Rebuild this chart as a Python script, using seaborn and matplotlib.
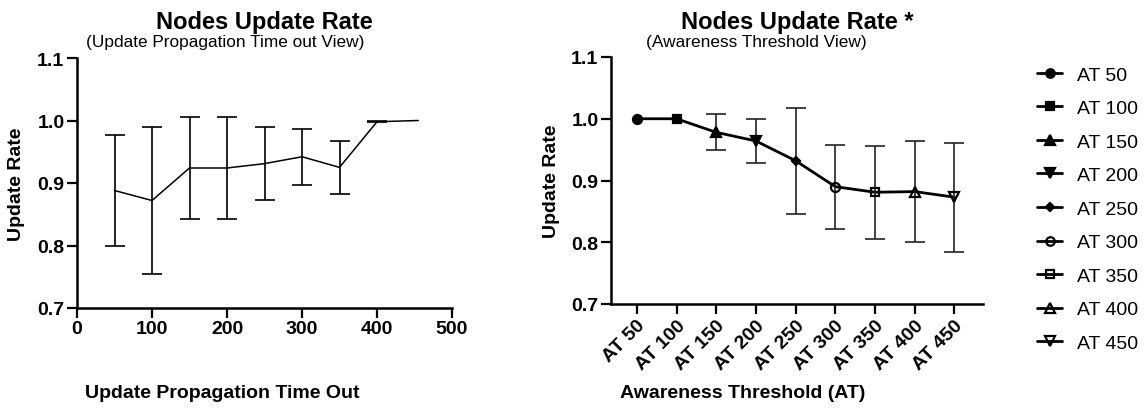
import numpy as np
import pandas as pd
import matplotlib
matplotlib.use("Agg")
import matplotlib.pyplot as plt
from matplotlib.lines import Line2D
import seaborn as sns

# ---------------- data ----------------
timeout_x = [50, 100, 150, 200, 250, 300, 350, 400, 455]
timeout_mean = [0.888, 0.872, 0.924, 0.924, 0.931, 0.942, 0.925, 0.998, 1.000]
timeout_sd = [0.089, 0.117, 0.082, 0.082, 0.058, 0.045, 0.043, 0.001, 0.0]

at_labels = ["AT 50", "AT 100", "AT 150", "AT 200", "AT 250",
             "AT 300", "AT 350", "AT 400", "AT 450"]
at_mean = [1.000, 1.000, 0.978, 0.964, 0.932, 0.890, 0.881, 0.882, 0.873]
at_sd = [0.0, 0.0, 0.029, 0.035, 0.086, 0.068, 0.075, 0.082, 0.088]

yticks = [0.7, 0.8, 0.9, 1.0, 1.1]
xticks_left = [0, 100, 200, 300, 400, 500]

markers = ["o", "s", "^", "v", "D", "o", "s", "^", "v"]
filled = [True, True, True, True, True, False, False, False, False]
msizes = [6.5, 6.3, 7, 7, 4.5, 6.5, 6.3, 7, 7]

# ---------------- style ----------------
sns.set_style("ticks")
plt.rcParams["font.family"] = ["Liberation Sans", "DejaVu Sans"]
plt.rcParams["text.color"] = "black"
plt.rcParams["axes.labelcolor"] = "black"
plt.rcParams["xtick.color"] = "black"
plt.rcParams["ytick.color"] = "black"
plt.rcParams["axes.edgecolor"] = "black"

W, H = 1148, 410
fig = plt.figure(figsize=(W / 100, H / 100), dpi=100)

def px_rect(l, r, t, b):
    return [l / W, 1 - b / H, (r - l) / W, (b - t) / H]

ax1 = fig.add_axes(px_rect(77, 452, 59, 309))
ax2 = fig.add_axes(px_rect(611, 983, 58, 305))

TICK_FS = 14
LAB_FS = 14

for ax in (ax1, ax2):
    sns.despine(ax=ax)
    ax.spines["left"].set_linewidth(1.8)
    ax.spines["bottom"].set_linewidth(1.8)
    ax.tick_params(axis="both", direction="out", length=7, width=1.6,
                   labelsize=TICK_FS, pad=2, colors="black")
    ax.set_ylim(0.7, 1.1)
    ax.set_yticks(yticks)
    ax.set_yticklabels([f"{v:.1f}" for v in yticks], fontweight="bold", fontsize=TICK_FS)
    ax.set_ylabel("Update Rate", fontsize=LAB_FS, fontweight="bold")

# ---------------- left panel ----------------
df1 = pd.DataFrame({"timeout": timeout_x, "rate": timeout_mean, "sd": timeout_sd})
sns.lineplot(data=df1, x="timeout", y="rate", ax=ax1, color="black",
             linewidth=1.1, errorbar=None)
e1 = df1[df1["sd"] > 0]
ax1.errorbar(e1["timeout"], e1["rate"], yerr=e1["sd"], fmt="none",
             ecolor="black", elinewidth=1.2, capsize=7, capthick=1.2)
ax1.set_xlim(0, 500)
ax1.set_xticks(xticks_left)
ax1.set_xticklabels([str(v) for v in xticks_left], fontweight="bold", fontsize=TICK_FS)
ax1.set_xlabel("Update Propagation Time Out", fontsize=LAB_FS, fontweight="bold")
ax1.xaxis.set_label_coords(0.387, -0.305)
ax1.yaxis.set_label_coords(-0.139, 0.5)

# ---------------- right panel ----------------
df2 = pd.DataFrame({"pos": np.arange(len(at_labels)), "label": at_labels,
                    "rate": at_mean, "sd": at_sd})
sns.lineplot(data=df2, x="pos", y="rate", ax=ax2, color="black",
             linewidth=2.0, errorbar=None)
e2 = df2[df2["sd"] > 0]
ax2.errorbar(e2["pos"], e2["rate"], yerr=e2["sd"], fmt="none",
             ecolor="#222222", elinewidth=1.2, capsize=7, capthick=1.2)
for i in range(len(at_labels)):
    ax2.plot(df2["pos"][i], at_mean[i], marker=markers[i], ms=msizes[i],
             mfc="black" if filled[i] else "none", mec="black", mew=1.6,
             linestyle="none", zorder=5)
ax2.set_xlim(-0.65, 8.72)
ax2.set_xticks(df2["pos"])
ax2.set_xticklabels(at_labels, rotation=45, ha="right", rotation_mode="anchor",
                    fontweight="bold", fontsize=TICK_FS)
ax2.set_xlabel("Awareness Threshold (AT)", fontsize=LAB_FS, fontweight="bold")
ax2.xaxis.set_label_coords(0.353, -0.325)
ax2.yaxis.set_label_coords(-0.137, 0.5)

# ---------------- titles ----------------
def fx(px):
    return px / W

def fy(py):
    return 1 - py / H

fig.text(fx(264.5), fy(22), "Nodes Update Rate", ha="center", va="center",
         fontsize=17, fontweight="bold")
fig.text(fx(225), fy(42), "(Update Propagation Time out View)", ha="center",
         va="center", fontsize=12.4)
fig.text(fx(797), fy(22), "Nodes Update Rate *", ha="center", va="center",
         fontsize=17, fontweight="bold")
fig.text(fx(756), fy(42), "(Awareness Threshold View)", ha="center",
         va="center", fontsize=12.4)

# ---------------- legend ----------------
handles = [Line2D([0], [0], color="black", linewidth=2.0, marker=markers[i],
                  ms=msizes[i] * 0.95, mfc="black" if filled[i] else "none",
                  mec="black", mew=1.6)
           for i in range(len(at_labels))]
fig.legend(handles, at_labels, loc="upper left",
           bbox_to_anchor=(fx(1037), fy(67)), frameon=False, fontsize=14,
           handlelength=1.3, handletextpad=0.75, labelspacing=0.82,
           borderaxespad=0, borderpad=0)

fig.savefig("out.png", dpi=100)
